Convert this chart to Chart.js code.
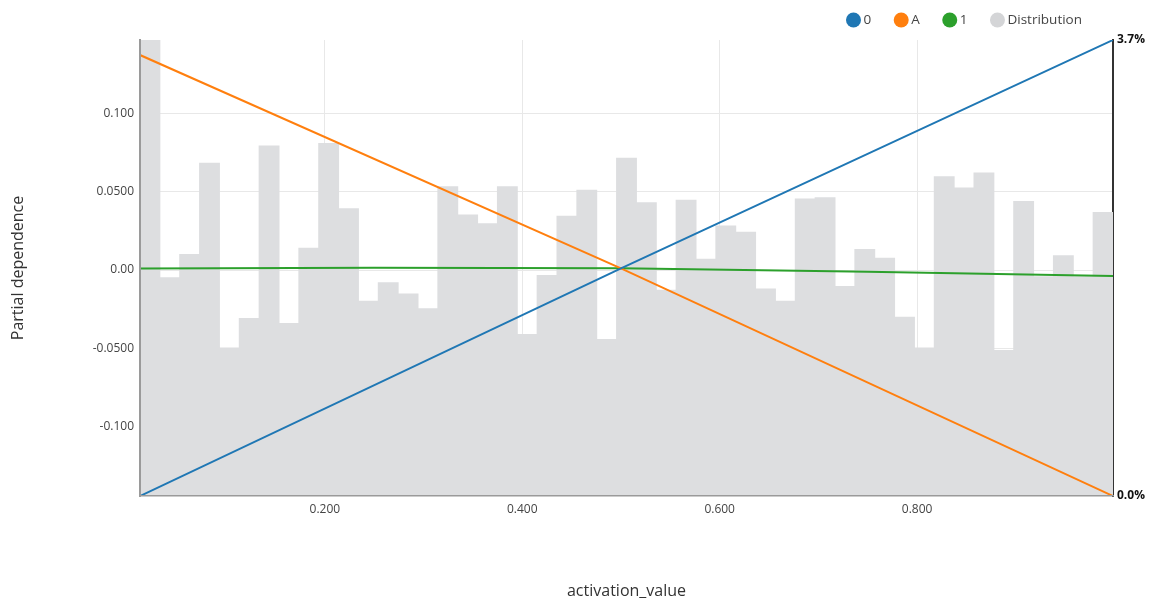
<!DOCTYPE html>
<html>
<head>
<meta charset="utf-8">
<title>Partial dependence – activation_value</title>
<script src="https://cdn.jsdelivr.net/npm/chart.js@4/dist/chart.umd.min.js"></script>
<style>
  html, body { margin: 0; padding: 0; background: #ffffff; }
  #pd { display: block; }
</style>
</head>
<body>
<canvas id="pd" width="1155" height="601"></canvas>
<script>
// Feature range and partial-dependence range
const xRange = [0.0127, 0.9985];
const yRange = [-0.1443, 0.1469];

// Partial dependence per class, sampled along activation_value
const gridX = [0.0127, 0.5, 0.9985];
const pdClass0 = [-0.1443, 0.0011, 0.1469];
const pdClassA = [0.1373, 0.0011, -0.1443];
const gridX1 = [0.0127, 0.25, 0.5, 0.75, 0.9985];
const pdClass1 = [0.0010, 0.0014, 0.0011, -0.0011, -0.0038];

// Share of rows (%) in each of the 49 histogram bins
const distShare = [
  3.70, 1.77, 1.96, 2.70, 1.20, 1.44, 2.84, 1.40, 2.01, 2.86,
  2.33, 1.58, 1.73, 1.64, 1.52, 2.51, 2.28, 2.21, 2.51, 1.31,
  1.79, 2.27, 2.48, 1.27, 2.74, 2.38, 1.67, 2.40, 1.92, 2.19,
  2.14, 1.68, 1.58, 2.41, 2.42, 1.70, 2.00, 1.93, 1.45, 1.20,
  2.59, 2.50, 2.62, 1.18, 2.39, 1.78, 1.95, 1.78, 2.30
];
const distMax = 3.7;

// Axis ticks
const xTicks = [0.2, 0.4, 0.6, 0.8];
const xTickLabels = ['0.200', '0.400', '0.600', '0.800'];
const yTicks = [-0.1, -0.05, 0, 0.05, 0.1];
const yTickLabels = ['-0.100', '-0.0500', '0.00', '0.0500', '0.100'];
const y2Ticks = [0, distMax];
const y2TickLabels = ['0.0%', '3.7%'];

// Bin centres used as category labels for the histogram axis
const binWidth = (xRange[1] - xRange[0]) / distShare.length;
const binLabels = distShare.map((_, i) => (xRange[0] + (i + 0.5) * binWidth).toFixed(3));

Chart.defaults.font.family = '"Open Sans", "Noto Sans", sans-serif';
Chart.defaults.color = '#444';

// Legend drawn in the top-right corner: coloured dot followed by the label
const dotLegend = {
  id: 'dotLegend',
  afterDraw(chart) {
    const ctx = chart.ctx;
    ctx.save();
    ctx.font = '13.5px "Open Sans", "Noto Sans", sans-serif';
    ctx.textBaseline = 'middle';
    const r = 7.5, textGap = 2.5, itemGap = 22.5, rightEdge = 1082, cy = 20;
    const items = chart.data.datasets.map(d => ({ text: d.label, color: d.legendColor || d.borderColor }));
    let x = rightEdge;
    const placed = [];
    for (let i = items.length - 1; i >= 0; i--) {
      const w = ctx.measureText(items[i].text).width;
      const textX = x - w;
      const cx = textX - textGap - r;
      placed.unshift({ ...items[i], textX, cx });
      x = cx - r - itemGap;
    }
    placed.forEach(it => {
      ctx.beginPath();
      ctx.arc(it.cx, cy, r, 0, Math.PI * 2);
      ctx.fillStyle = it.color;
      ctx.fill();
      ctx.fillStyle = '#444';
      ctx.fillText(it.text, it.textX, cy + 0.5);
    });
    ctx.restore();
  }
};

const pointsOf = (xs, ys) => xs.map((x, i) => ({ x, y: ys[i] }));

new Chart(document.getElementById('pd'), {
  type: 'bar',
  data: {
    datasets: [
      {
        label: '0', type: 'line', data: pointsOf(gridX, pdClass0),
        borderColor: '#1f77b4', borderWidth: 2, pointRadius: 0, tension: 0,
        xAxisID: 'x', yAxisID: 'y'
      },
      {
        label: 'A', type: 'line', data: pointsOf(gridX, pdClassA),
        borderColor: '#ff7f0e', borderWidth: 2, pointRadius: 0, tension: 0,
        xAxisID: 'x', yAxisID: 'y'
      },
      {
        label: '1', type: 'line', data: pointsOf(gridX1, pdClass1),
        borderColor: '#2ca02c', borderWidth: 2, pointRadius: 0, tension: 0,
        xAxisID: 'x', yAxisID: 'y'
      },
      {
        label: 'Distribution', type: 'bar', data: distShare,
        backgroundColor: 'rgb(221,222,224)', legendColor: '#d4d5d7',
        borderWidth: 0, inflateAmount: 0.5,
        barPercentage: 1, categoryPercentage: 1, grouped: false,
        xAxisID: 'xb', yAxisID: 'y2'
      }
    ]
  },
  options: {
    responsive: false,
    animation: false,
    layout: { padding: { top: 40, left: 0, right: 0, bottom: 0 } },
    plugins: {
      legend: { display: false },
      tooltip: { enabled: false }
    },
    scales: {
      x: {
        type: 'linear', position: 'bottom', offset: false,
        min: xRange[0], max: xRange[1],
        afterBuildTicks: s => { s.ticks = xTicks.map(v => ({ value: v })); },
        afterFit: s => { s.height = 105; },
        ticks: {
          autoSkip: false, maxRotation: 0, padding: 6,
          font: { size: 12 }, color: '#444',
          callback: v => xTickLabels[xTicks.indexOf(v)]
        },
        grid: { color: '#e8e8e8', lineWidth: 1, drawTicks: false, offset: false },
        border: { color: '#9a9a9a', width: 1.5, z: 1 },
        title: {
          display: true, text: 'activation_value', color: '#333',
          font: { size: 16 }, padding: { top: 0, bottom: 0 }
        }
      },
      xb: {
        type: 'category', position: 'bottom', labels: binLabels, offset: true, display: false,
        grid: { offset: true }
      },
      y: {
        type: 'linear', position: 'left',
        min: yRange[0], max: yRange[1],
        afterBuildTicks: s => { s.ticks = yTicks.map(v => ({ value: v })); },
        afterFit: s => { s.width = 140; },
        ticks: {
          padding: 6, font: { size: 12 }, color: '#444',
          callback: v => yTickLabels[yTicks.indexOf(v)]
        },
        grid: { color: '#e8e8e8', lineWidth: 1, drawTicks: false },
        border: { color: '#9a9a9a', width: 2, z: 1 },
        title: {
          display: true, text: 'Partial dependence', color: '#333',
          font: { size: 16 }, padding: { top: 8.5, bottom: 0 }
        }
      },
      y2: {
        type: 'linear', position: 'right',
        min: 0, max: distMax,
        afterBuildTicks: s => { s.ticks = y2Ticks.map(v => ({ value: v })); },
        afterFit: s => { s.width = 42; },
        ticks: {
          padding: 4, font: { size: 12, weight: 'bold' }, color: '#111',
          callback: v => y2TickLabels[y2Ticks.indexOf(v)]
        },
        grid: { display: false, drawTicks: false },
        border: { color: '#333', width: 2 }
      }
    }
  },
  plugins: [dotLegend]
});
</script>
</body>
</html>
